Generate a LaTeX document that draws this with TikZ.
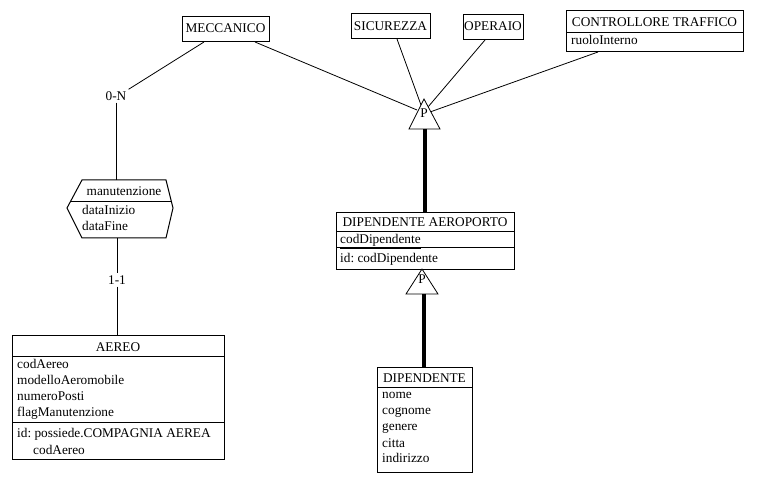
\documentclass[tikz,border=0pt]{standalone}
\usepackage{fontspec}
\setmainfont{Liberation Serif}
\frenchspacing
\begin{document}
\begin{tikzpicture}[x=1pt,y=-1pt,
  box/.style={draw, line width=1pt, inner sep=0pt, anchor=north west},
  txt/.style={font=\fontsize{13.3}{16}\selectfont\frenchspacing, inner sep=0pt},
  lbl/.style={font=\fontsize{13.3}{16}\selectfont, inner sep=2pt},
  conn/.style={line width=0.8pt},
  thick link/.style={line width=4pt},
  sep/.style={line width=1pt}]
\useasboundingbox[fill=white] (0,0) rectangle (761,478);

% ---------- top entities ----------
\node[box, minimum width=87pt, minimum height=25pt] (mec) at (182,16) {};
\node[txt, anchor=base] at (225.5,33) {MECCANICO};

\node[box, minimum width=79pt, minimum height=25pt] (sic) at (351,13) {};
\node[txt, anchor=base] at (390.5,31) {SICUREZZA};

\node[box, minimum width=60pt, minimum height=25pt] (ope) at (463,14) {};
\node[txt, anchor=base] at (493,31) {OPERAIO};

\node[box, minimum width=177pt, minimum height=41pt] (ctl) at (566,10) {};
\draw[sep] (566,33) -- (743,33);
\node[txt, anchor=base] at (654.5,27) {CONTROLLORE TRAFFICO};
\node[txt, anchor=base west] at (571,45) {ruoloInterno};

% ---------- top generalisation triangle ----------
\coordinate (pt) at (424,99);
\coordinate (ptl) at (409,129);
\coordinate (ptr) at (440,129);
\coordinate (ptb) at (424.5,129);
\coordinate (inMec) at (417,110);
\coordinate (inSic) at (421,105);
\coordinate (inOpe) at (428,107);
\coordinate (inCtl) at (430,112);

\draw[conn] ([xshift=73pt]mec.south west) -- (inMec);
\draw[conn] ([xshift=46pt]sic.south west) -- (inSic);
\draw[conn] ([xshift=22pt]ope.south west) -- (inOpe);
\draw[conn] ([xshift=32pt]ctl.south west) -- (inCtl);

\draw[line width=0.8pt, fill=white] (pt) -- (ptl) -- (ptr) -- cycle;
\node[txt, anchor=base] (ptop) at (424,118) {P};

% ---------- DIPENDENTE AEROPORTO ----------
\node[box, minimum width=178pt, minimum height=57pt] (dipa) at (336,212) {};
\draw[sep] (336,232) -- (514,232);
\draw[sep] (336,248) -- (514,248);
\node[txt, anchor=base] at (425,227) {DIPENDENTE AEROPORTO};
\node[txt, anchor=base west] at (340,244) {\underline{codDipendente}};
\node[txt, anchor=base west] at (340,263) {id: codDipendente};

\draw[thick link] (ptb) -- (ptb |- dipa.north);

% ---------- lower generalisation triangle ----------
\coordinate (pb) at (422,269);
\coordinate (pbl) at (406,294);
\coordinate (pbr) at (438,294);
\coordinate (pbb) at (423.5,294);
\draw[line width=0.8pt, fill=white] (pb) -- (pbl) -- (pbr) -- cycle;
\node[txt, anchor=base] (pbot) at (422,284) {P};

% ---------- DIPENDENTE ----------
\node[box, minimum width=95pt, minimum height=105pt] (dip) at (377,367) {};
\draw[sep] (377,388) -- (472,388);
\node[txt, anchor=base] at (424.5,383) {DIPENDENTE};
\node[txt, anchor=base west] at (382,399) {nome};
\node[txt, anchor=base west] at (382,415) {cognome};
\node[txt, anchor=base west] at (382,431) {genere};
\node[txt, anchor=base west] at (382,447) {citta};
\node[txt, anchor=base west] at (382,463) {indirizzo};

\draw[thick link] (pbb) -- (pbb |- dip.north);

% ---------- relationship manutenzione ----------
\coordinate (hexT) at (116,180);
\coordinate (hexB) at (117,238);
\draw[line width=1pt] (67,208) -- (82,180) -- (166,180) -- (173,208) -- (166,238) -- (82,238) -- cycle;
\draw[sep] (70.2,202) -- (171.5,202);
\node[txt, anchor=base] at (124,196) {manutenzione};
\node[txt, anchor=base west] at (82,215) {dataInizio};
\node[txt, anchor=base west] at (82,231) {dataFine};

\node[lbl] (l0n) at (116,96) {0-N};
\node[lbl] (l11) at (117,280) {1-1};

\draw[conn] ([xshift=22pt]mec.south west) -- (l0n.north east);
\draw[conn] (l0n.south) -- (hexT);
\draw[conn] (hexB) -- (l11.north);

% ---------- AEREO ----------
\node[box, minimum width=212pt, minimum height=124pt] (aer) at (12,335) {};
\draw[sep] (12,357) -- (224,357);
\draw[sep] (12,423) -- (224,423);
\node[txt, anchor=base] at (118,352) {AEREO};
\node[txt, anchor=base west] at (17,369) {codAereo};
\node[txt, anchor=base west] at (17,385) {modelloAeromobile};
\node[txt, anchor=base west] at (17,401) {numeroPosti};
\node[txt, anchor=base west] at (17,417) {flagManutenzione};
\node[txt, anchor=base west] at (17,438) {id: possiede.COMPAGNIA AEREA};
\node[txt, anchor=base west] at (33,454) {codAereo};

\draw[conn] (l11.south) -- (l11.south |- aer.north);
\end{tikzpicture}
\end{document}
